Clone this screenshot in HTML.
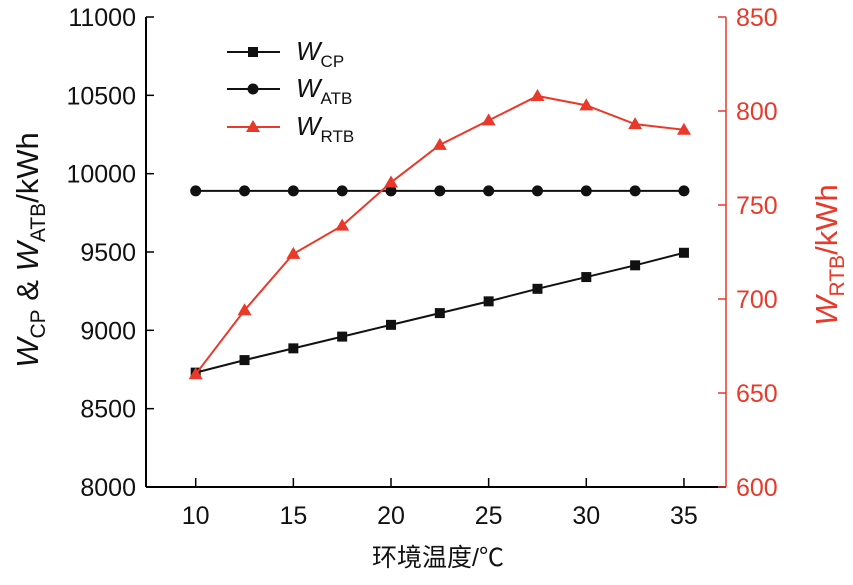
<!DOCTYPE html>
<html><head><meta charset="utf-8"><style>
body{margin:0;background:#fff}
svg text{font-family:"Liberation Sans","Noto Sans CJK SC",sans-serif}
</style></head><body>
<svg width="853" height="580" viewBox="0 0 853 580">
<g id="g"></g>
</svg>
<script>
const xCats=[10,12.5,15,17.5,20,22.5,25,27.5,30,32.5,35];
const wcp=[8730,8810,8885,8960,9035,9110,9185,9265,9340,9415,9495];
const watb=[9890,9890,9890,9890,9890,9890,9890,9890,9890,9890,9890];
const wrtb=[660,694,724,739,762,782,795,808,803,793,790];
const xTicks=[10,15,20,25,30,35];
const yLTicks=[8000,8500,9000,9500,10000,10500,11000];
const yRTicks=[600,650,700,750,800,850];
const L=146,R=726,T=17,B=487;
const X=v=>195.7+(v-10)*19.53;
const YL=v=>B-(v-8000)/3000*(B-T);
const YR=v=>B-(v-600)/250*(B-T);
const g=document.getElementById('g');
const NS='http://www.w3.org/2000/svg';
function el(t,a,txt){const e=document.createElementNS(NS,t);for(const k in a)e.setAttribute(k,a[k]);if(txt!==undefined)e.textContent=txt;g.appendChild(e);return e;}
let e;
e=el('line',{x1:L,y1:T,x2:L,y2:B,stroke:'#000','stroke-width':2});


e=el('line',{x1:L,y1:B,x2:R,y2:B,stroke:'#000','stroke-width':2});


e=el('line',{x1:R,y1:T,x2:R,y2:B,stroke:'#e8392a','stroke-width':1.5});


xTicks.forEach(v=>{
 el('line',{x1:X(v),y1:B,x2:X(v),y2:B-9,stroke:'#000','stroke-width':1.5});
 e=el('text',{x:X(v),y:B+37,'font-size':25,'text-anchor':'middle',fill:'#111'},v);
 
 
});
yLTicks.forEach(v=>{
 el('line',{x1:L,y1:YL(v),x2:L+8,y2:YL(v),stroke:'#000','stroke-width':1.5});
 e=el('text',{x:L-10,y:YL(v)+9,'font-size':25,'text-anchor':'end',fill:'#111'},v);
 
 
});
yRTicks.forEach(v=>{
 el('line',{x1:R,y1:YR(v),x2:R-8,y2:YR(v),stroke:'#e8392a','stroke-width':1.5});
 e=el('text',{x:R+10,y:YR(v)+9,'font-size':25,'text-anchor':'start',fill:'#e8392a'},v);
 
 
});
function series(vals,Y,color,marker,name){
 const pts=xCats.map((c,i)=>X(c)+','+Y(vals[i])).join(' ');
 e=el('polyline',{points:pts,fill:'none',stroke:color,'stroke-width':2});
 
 
 xCats.forEach((c,i)=>{drawMarker(X(c),Y(vals[i]),color,marker,name);});
}
function drawMarker(x,y,color,m,name){
 if(m==='sq')e=el('rect',{x:x-5,y:y-5,width:10,height:10,fill:color});
 else if(m==='ci')e=el('circle',{cx:x,cy:y,r:5.5,fill:color});
 else e=el('polygon',{points:`${x},${y-7} ${x-7},${y+5} ${x+7},${y+5}`,fill:color});
 
 
}
series(watb,YL,'#111','ci','watb');
series(wcp,YL,'#111','sq','wcp');
series(wrtb,YR,'#e8392a','tri','wrtb');
const leg=[['CP','#111','sq',52],['ATB','#111','ci',89],['RTB','#e8392a','tri',127]];
leg.forEach(l=>{
 e=el('line',{x1:227,y1:l[3],x2:280,y2:l[3],stroke:l[1],'stroke-width':2});
 
 
 drawMarker(253,l[3],l[1],l[2],'legend');
 e=el('text',{x:296,y:l[3]+8,'font-size':26,fill:'#111'});
 e.innerHTML=`<tspan font-style="italic">W</tspan><tspan font-size="17" dy="7">${l[0]}</tspan>`;
 
 
});
e=el('text',{x:438,y:566,'font-size':25,'text-anchor':'middle',fill:'#111','font-family':'"Noto Serif CJK SC",serif'},'环境温度/℃');


e=el('text',{transform:'translate(38,250) rotate(-90)','font-size':31,'text-anchor':'middle',fill:'#111'});
e.innerHTML='<tspan font-style="italic">W</tspan><tspan font-size="21" dy="7">CP</tspan><tspan dy="-7"> &amp; </tspan><tspan font-style="italic">W</tspan><tspan font-size="21" dy="7">ATB</tspan><tspan dy="-7">/kWh</tspan>';


e=el('text',{transform:'translate(837,255) rotate(-90)','font-size':31,'text-anchor':'middle',fill:'#e8392a'});
e.innerHTML='<tspan font-style="italic">W</tspan><tspan font-size="21" dy="7">RTB</tspan><tspan dy="-7">/kWh</tspan>';


</script>
</body></html>
